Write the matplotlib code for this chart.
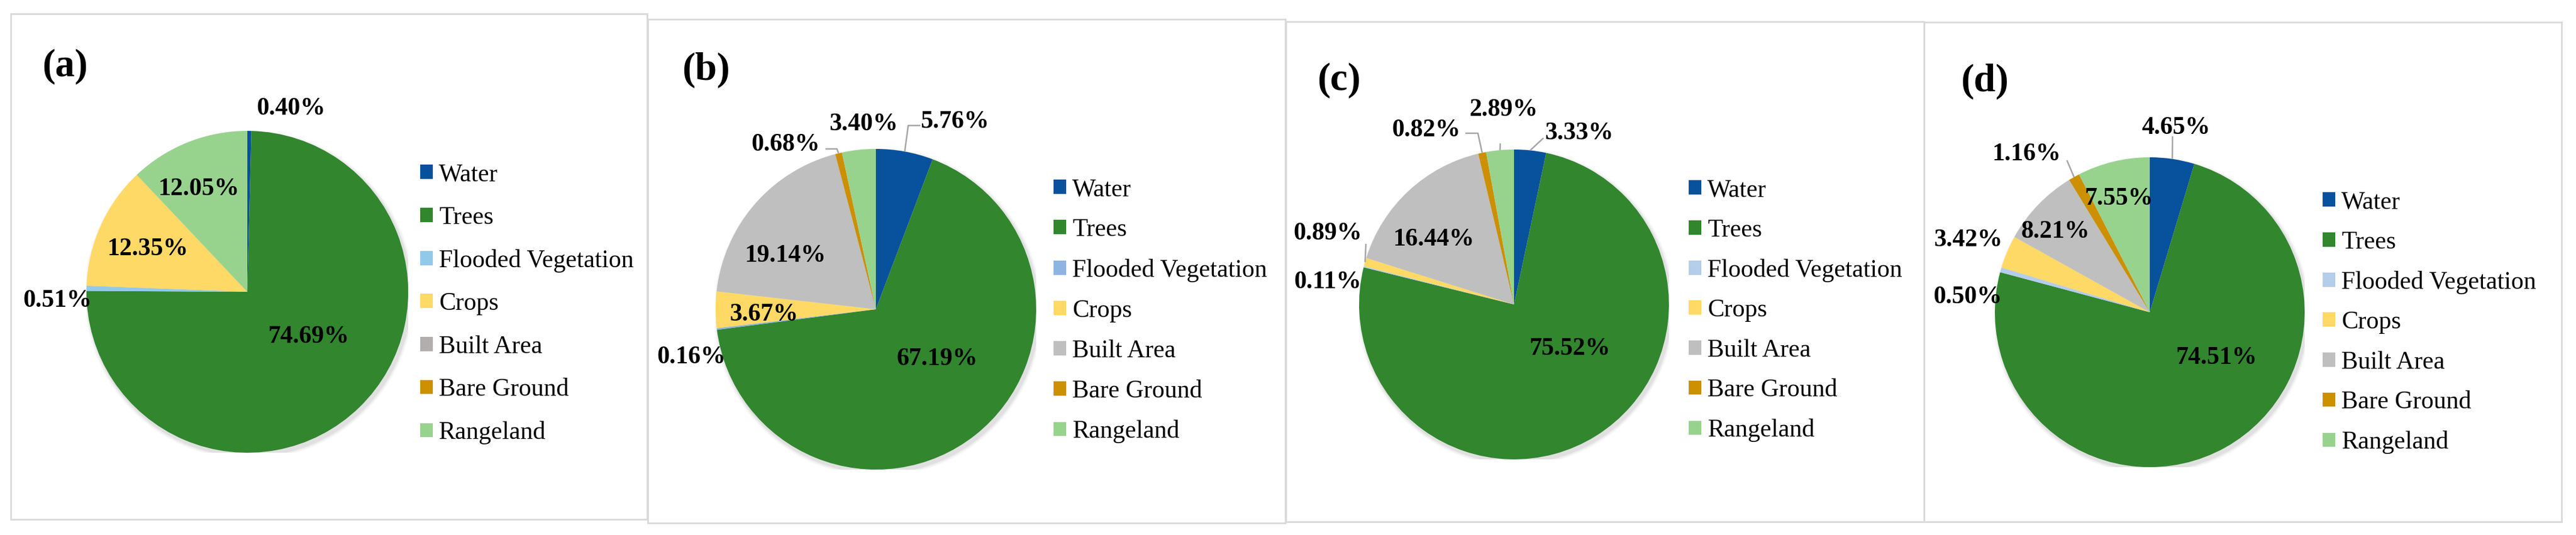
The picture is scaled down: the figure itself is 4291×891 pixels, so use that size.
import matplotlib
matplotlib.use("Agg")
import matplotlib.pyplot as plt
from matplotlib.patches import Rectangle, Circle
from matplotlib.transforms import offset_copy
import numpy as np

# ---------------- data ----------------
categories = ["Water", "Trees", "Flooded Vegetation", "Crops",
              "Built Area", "Bare Ground", "Rangeland"]
values_a = [0.40, 74.69, 0.51, 12.35, 0.00, 0.00, 12.05]
values_b = [5.76, 67.19, 0.16, 3.67, 19.14, 0.68, 3.40]
values_c = [3.33, 75.52, 0.11, 0.89, 16.44, 0.82, 2.89]
values_d = [4.65, 74.51, 0.50, 3.42, 8.21, 1.16, 7.55]
panel_tags = ["(a)", "(b)", "(c)", "(d)"]

# ---------------- style / layout ----------------
W, H = 4291, 891
SERIF = ["Liberation Serif", "DejaVu Serif"]
base_colors = ["#08519C", "#31862E", None, "#FFD966",
               "#BFBFBF", "#CC9000", "#98D38E"]
flooded_colors = ["#92C9EA", "#8FB4E3", "#B4CDEB", "#B4CDEB"]
built_colors = ["#B2AEAE", "#BFBFBF", "#BFBFBF", "#BFBFBF"]

layout = [
    dict(border=(18, 23, 1078, 865), center=(412, 486), r=268,
         tag_xy=(108, 111), legend_xy=(700, 286), legend_step=72,
         labels=[(0.272, 1.153), (0.381, -0.265), (-1.179, -0.041),
                 (-0.619, 0.280), None, None, (-0.302, 0.653)],
         leaders=[None] * 7),
    dict(border=(1079, 32, 2141, 871), center=(1459, 515), r=267,
         tag_xy=(1176, 117), legend_xy=(1755, 311), legend_step=67.5,
         labels=[(0.494, 1.184), (0.382, -0.296), (-1.150, -0.285),
                 (-0.697, -0.019), (-0.566, 0.348), (-0.562, 1.041),
                 (-0.075, 1.169)],
         leaders=[[(0.277, 1.146), (0.202, 1.146)], None, None, None, None,
                  [(-0.315, 1.0), (-0.243, 1.0)], None]),
    dict(border=(2142, 36, 3205, 869), center=(2522, 507), r=258,
         tag_xy=(2230, 134), legend_xy=(2813, 312), legend_step=67,
         labels=[(0.422, 1.120), (0.360, -0.271), (-1.202, 0.159),
                 (-1.202, 0.473), (-0.516, 0.434), (-0.566, 1.140),
                 (-0.070, 1.271)],
         leaders=[[(0.190, 1.074)], None, None, [(-0.956, 0.391)], None,
                  [(-0.314, 1.105), (-0.233, 1.105)], [(-0.089, 1.04)]]),
    dict(border=(3205, 37, 4267, 869), center=(3581, 520), r=258,
         tag_xy=(3306, 136), legend_xy=(3869, 332), legend_step=67,
         labels=[(0.171, 1.205), (0.430, -0.279), (-1.174, 0.112),
                 (-1.171, 0.481), (-0.609, 0.535), (-0.795, 1.035),
                 (-0.198, 0.748)],
         leaders=[[(0.147, 1.136)], None, None, None, None,
                  [(-0.535, 0.981)], None]),
]

LABEL_FS = 30
LEGEND_FS = 30
TAG_FS = 47

fig = plt.figure(figsize=(W / 100, H / 100), dpi=100)
fig.patch.set_facecolor("white")


def fx(x):
    return x / W


def fy(y):
    return 1 - y / H


all_values = [values_a, values_b, values_c, values_d]

for i, (vals, lay) in enumerate(zip(all_values, layout)):
    # panel border
    x0, y0, x1, y1 = lay["border"]
    fig.add_artist(Rectangle((fx(x0), fy(y1)), (x1 - x0) / W, (y1 - y0) / H,
                             transform=fig.transFigure, fill=False,
                             edgecolor="#D9D9D9", linewidth=2.0, zorder=0))
    # panel tag
    fig.text(fx(lay["tag_xy"][0]), fy(lay["tag_xy"][1]), panel_tags[i],
             family=SERIF, fontweight="bold", fontsize=TAG_FS,
             ha="center", va="center")

    cols = list(base_colors)
    cols[2] = flooded_colors[i]
    cols[4] = built_colors[i]

    cx, cy = lay["center"]
    r = lay["r"]
    ax = fig.add_axes([fx(cx - r), fy(cy + r), 2 * r / W, 2 * r / H])
    # soft shadow
    for k, a in enumerate([0.05, 0.04, 0.03]):
        ax.add_patch(Circle((0.012, -0.018), 1.0 + 0.008 * (k + 1),
                            color="black", alpha=a, lw=0, zorder=0))
    wedges, _ = ax.pie(vals, colors=cols, startangle=90, counterclock=False,
                       radius=1.0, wedgeprops=dict(linewidth=0, zorder=2))
    ax.set_xlim(-1, 1)
    ax.set_ylim(-1, 1)
    ax.set_aspect("equal")
    ax.axis("off")

    # labels
    txt_tr = offset_copy(ax.transData, fig=fig, y=-LABEL_FS * 0.33,
                         units="points")
    for j, v in enumerate(vals):
        pos = lay["labels"][j]
        if v <= 0 or pos is None:
            continue
        ax.text(pos[0], pos[1], f"{v:.2f}%", transform=txt_tr,
                family=SERIF, fontweight="bold", fontsize=LABEL_FS,
                ha="center", va="baseline", clip_on=False, zorder=5)
        lead = lay["leaders"][j]
        if lead:
            w = wedges[j]
            mid = np.deg2rad((w.theta1 + w.theta2) / 2)
            pts = list(lead) + [(np.cos(mid), np.sin(mid))]
            xs, ys = zip(*pts)
            ax.plot(xs, ys, color="#A6A6A6", lw=1.8, clip_on=False,
                    zorder=4, solid_capstyle="butt")

    # legend
    lx, ly = lay["legend_xy"]
    step = lay["legend_step"]
    fs_px = LEGEND_FS * 100 / 72
    row_h = fs_px * 0.935
    spacing = (step - row_h) / fs_px
    leg = ax.legend(wedges, categories, loc="upper left",
                    bbox_to_anchor=(fx(lx), fy(ly - row_h / 2 + 5)),
                    bbox_transform=fig.transFigure, frameon=False,
                    prop=dict(family=SERIF, size=LEGEND_FS),
                    handlelength=0.5, handleheight=0.5, handletextpad=0.25,
                    labelspacing=spacing, borderpad=0, borderaxespad=0)

fig.savefig("out.png", dpi=100, facecolor="white")
